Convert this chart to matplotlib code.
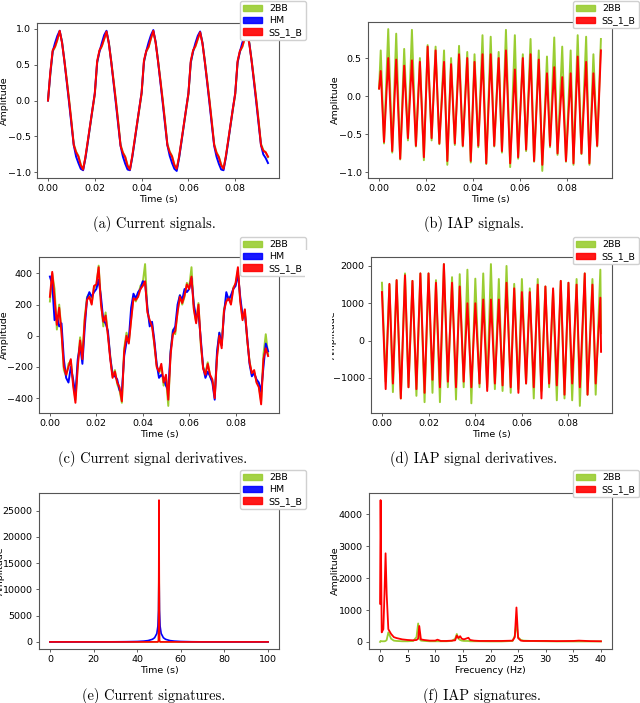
import numpy as np
import matplotlib
matplotlib.use("Agg")
import matplotlib.pyplot as plt
from matplotlib.patches import Patch, Rectangle

# ---------------- data ----------------
C_2BB = "yellowgreen"
C_HM = "#0000ff"
C_SS = "#ff0000"

dt_a = 0.001
n_a = 95
# (a) current signals
cur_2bb = [0.00, 0.36, 0.68, 0.74, 0.84, 0.96, 0.82, 0.57, 0.30, 0.02, -0.28, -0.60, -0.71, -0.77, -0.89, -0.96, -0.80, -0.58, -0.36, -0.14,
           0.08, 0.52, 0.69, 0.75, 0.85, 0.95, 0.81, 0.56, 0.29, 0.01, -0.29, -0.61, -0.72, -0.78, -0.90, -0.96, -0.79, -0.57, -0.35, -0.13,
           0.09, 0.53, 0.68, 0.74, 0.86, 0.96, 0.82, 0.57, 0.30, 0.02, -0.28, -0.60, -0.71, -0.77, -0.89, -0.95, -0.80, -0.58, -0.36, -0.14,
           0.08, 0.52, 0.69, 0.75, 0.85, 0.95, 0.81, 0.56, 0.29, 0.01, -0.29, -0.60, -0.72, -0.78, -0.89, -0.95, -0.79, -0.57, -0.35, -0.13,
           0.08, 0.52, 0.68, 0.74, 0.85, 0.95, 0.81, 0.57, 0.30, 0.02, -0.28, -0.60, -0.69, -0.72, -0.79]
cur_hm = [0.00, 0.38, 0.68, 0.80, 0.90, 0.97, 0.81, 0.55, 0.26, -0.03, -0.33, -0.62, -0.78, -0.87, -0.95, -0.97, -0.80, -0.58, -0.35, -0.12,
          0.10, 0.53, 0.68, 0.80, 0.91, 0.97, 0.80, 0.54, 0.25, -0.04, -0.34, -0.63, -0.78, -0.88, -0.96, -0.97, -0.79, -0.57, -0.34, -0.11,
          0.11, 0.54, 0.69, 0.81, 0.91, 0.98, 0.81, 0.55, 0.26, -0.03, -0.33, -0.62, -0.77, -0.87, -0.95, -0.98, -0.80, -0.58, -0.35, -0.12,
          0.10, 0.53, 0.68, 0.80, 0.90, 0.96, 0.80, 0.54, 0.25, -0.04, -0.34, -0.63, -0.78, -0.88, -0.96, -0.97, -0.79, -0.57, -0.34, -0.11,
          0.10, 0.53, 0.68, 0.80, 0.90, 0.96, 0.80, 0.55, 0.26, -0.03, -0.33, -0.62, -0.75, -0.80, -0.87]
cur_ss = [0.00, 0.40, 0.70, 0.75, 0.85, 0.97, 0.80, 0.55, 0.28, 0.00, -0.30, -0.62, -0.72, -0.78, -0.90, -0.96, -0.78, -0.56, -0.34, -0.12,
          0.10, 0.55, 0.70, 0.76, 0.86, 0.96, 0.79, 0.54, 0.27, -0.01, -0.31, -0.63, -0.73, -0.79, -0.91, -0.96, -0.77, -0.55, -0.33, -0.11,
          0.11, 0.56, 0.69, 0.75, 0.87, 0.97, 0.80, 0.55, 0.28, 0.00, -0.30, -0.62, -0.72, -0.78, -0.90, -0.95, -0.78, -0.56, -0.34, -0.12,
          0.10, 0.55, 0.70, 0.76, 0.86, 0.95, 0.79, 0.54, 0.27, -0.01, -0.31, -0.62, -0.73, -0.79, -0.90, -0.95, -0.77, -0.55, -0.33, -0.11,
          0.10, 0.55, 0.69, 0.75, 0.86, 0.95, 0.79, 0.55, 0.28, 0.00, -0.30, -0.62, -0.70, -0.72, -0.78]

# (c) current derivatives
der_2bb = [220, 400, 300, 40, 200, 30, -220, -260, -180, -160, -300, -410, -180, -10, -130, 120, 250, 270, 210, 310,
           320, 450, 220, 60, 150, 10, -130, -260, -220, -310, -350, -430, -80, 20, -40, 110, 250, 220, 260, 320,
           340, 460, 170, 80, 80, -60, -190, -240, -200, -320, -270, -450, -100, 40, 10, 160, 260, 200, 250, 340,
           310, 440, 180, 90, 210, -60, -200, -240, -170, -260, -290, -380, -120, 20, -60, 170, 230, 250, 210, 310,
           330, 420, 230, 110, 160, -30, -160, -250, -230, -290, -320, -420, -120, 10, -120]
der_hm = [380, 330, 100, 130, 60, 80, -150, -270, -300, -200, -280, -380, -150, -60, -180, 50, 240, 280, 250, 280,
          300, 360, 250, 100, 80, 30, -140, -250, -260, -280, -350, -360, -130, -40, -20, 180, 270, 240, 280, 300,
          350, 340, 180, 60, 90, -30, -180, -270, -250, -270, -320, -350, -100, 30, 60, 200, 260, 230, 300, 280,
          300, 370, 200, 120, 150, -20, -200, -270, -230, -260, -300, -410, -100, 20, -60, 140, 280, 230, 260, 300,
          320, 400, 250, 130, 140, -10, -180, -260, -240, -280, -300, -360, -200, -50, -100]
der_ss = [250, 410, 240, 70, 180, 20, -200, -250, -200, -150, -320, -430, -200, -30, -150, 100, 230, 250, 200, 320,
          330, 440, 200, 90, 130, 0, -150, -270, -230, -300, -330, -420, -100, 0, -50, 100, 240, 230, 250, 300,
          320, 350, 150, 100, 60, -50, -200, -230, -180, -300, -250, -410, -120, 10, 30, 150, 250, 210, 260, 330,
          300, 380, 170, 80, 200, -40, -210, -250, -180, -250, -280, -400, -140, 0, -80, 160, 220, 240, 200, 300,
          340, 440, 220, 100, 170, -20, -170, -240, -220, -300, -330, -440, -150, -80, -130]

# (b) IAP signals
t_b = [0.0000, 0.0007, 0.0021, 0.0039, 0.0056, 0.0073, 0.0090, 0.0107, 0.0123, 0.0140, 0.0157, 0.0174, 0.0191, 0.0207,
       0.0224, 0.0241, 0.0257, 0.0277, 0.0291, 0.0307, 0.0323, 0.0341, 0.0357, 0.0376, 0.0391, 0.0407, 0.0423, 0.0441,
       0.0457, 0.0476, 0.0491, 0.0510, 0.0524, 0.0541, 0.0559, 0.0579, 0.0593, 0.0613, 0.0627, 0.0646, 0.0661, 0.0681,
       0.0696, 0.0716, 0.0729, 0.0747, 0.0761, 0.0781, 0.0797, 0.0817, 0.0829, 0.0847, 0.0863, 0.0883, 0.0897, 0.0914,
       0.0930, 0.0946]
iap_2bb = [0.10, 0.60, -0.62, 0.88, -0.74, 0.82, -0.83, 0.62, -0.58, 0.87, -0.66, 0.50, -0.84, 0.67, -0.58, 0.65, -0.63,
           0.60, -0.90, 0.50, -0.64, 0.66, -0.66, 0.58, -0.87, 0.55, -0.67, 0.80, -0.89, 0.78, -0.66, 0.58, -0.74, 0.87,
           -0.93, 0.80, -0.82, 0.55, -0.72, 0.75, -0.86, 0.60, -0.98, 0.52, -0.67, 0.77, -0.77, 0.65, -0.86, 0.60, -0.90,
           0.80, -0.76, 0.78, -0.90, 0.55, -0.66, 0.75]
iap_ss = [0.10, 0.33, -0.60, 0.50, -0.72, 0.48, -0.82, 0.40, -0.55, 0.47, -0.65, 0.45, -0.80, 0.65, -0.55, 0.60, -0.62,
          0.45, -0.85, 0.42, -0.62, 0.55, -0.65, 0.50, -0.85, 0.45, -0.65, 0.55, -0.88, 0.55, -0.65, 0.50, -0.72, 0.60,
          -0.88, 0.35, -0.80, 0.50, -0.70, 0.55, -0.85, 0.48, -0.90, 0.30, -0.65, 0.38, -0.75, 0.25, -0.85, 0.30, -0.88,
          0.52, -0.75, 0.45, -0.88, 0.30, -0.65, 0.60]

# (d) IAP derivatives
t_d = [0.0000, 0.0016, 0.0032, 0.0047, 0.0063, 0.0081, 0.0099, 0.0114, 0.0131, 0.0148, 0.0165, 0.0183, 0.0200, 0.0217,
       0.0232, 0.0249, 0.0266, 0.0283, 0.0301, 0.0318, 0.0334, 0.0351, 0.0367, 0.0384, 0.0401, 0.0419, 0.0435, 0.0452,
       0.0468, 0.0485, 0.0502, 0.0518, 0.0535, 0.0553, 0.0568, 0.0586, 0.0601, 0.0619, 0.0635, 0.0652, 0.0669, 0.0685,
       0.0702, 0.0718, 0.0735, 0.0751, 0.0768, 0.0784, 0.0801, 0.0817, 0.0836, 0.0850, 0.0871, 0.0883, 0.0904, 0.0918,
       0.0938, 0.0941]
iapd_2bb = [1550, -1100, 1500, -1380, 1620, -1550, 1800, -1250, 1600, -1480, 1800, -1650, 1800, -1400, 1620, -1650,
            2050, -1250, 1700, -1580, 1780, -1250, 1900, -1680, 1660, -1250, 1800, -1250, 2050, -1300, 1650, -1350,
            2000, -1400, 1520, -1300, 1650, -1150, 1400, -1550, 1650, -1350, 1450, -1250, 1350, -1600, 1600, -1550,
            1550, -1600, 1650, -1750, 1800, -1450, 1650, -1450, 1900, 200]
iapd_ss = [1300, -1300, 1520, -1150, 1620, -1550, 1750, -1250, 1600, -1300, 1800, -1400, 1800, -1050, 1550, -1250,
           2050, -1100, 1550, -1250, 1450, -1100, 1000, -1250, 1000, -1150, 1100, -1350, 1100, -1150, 1100, -1200,
           1550, -1250, 1400, -1400, 1300, -1150, 1300, -1250, 1500, -1550, 1450, -1150, 1400, -1200, 1600, -1450,
           1550, -1150, 1500, -1250, 1800, -1450, 1500, -1150, 1150, -300]

# (e) current signatures
x_e = [0, 10, 20, 30, 35, 40, 43, 45, 47, 48, 49, 49.5, 49.8, 50, 50.2, 50.5, 51, 52, 53, 55, 57, 60, 65, 70, 80, 90, 100]
sig_2bb = [0, 0, 0, 0, 0, 0, 0, 0, 0, 0, 0, 0, 200, 21000, 200, 0, 0, 0, 0, 0, 0, 0, 0, 0, 0, 0, 0]
sig_hm = [0, 0, 0, 20, 40, 80, 150, 250, 500, 800, 1600, 3000, 6000, 14500, 6000, 3000, 1600, 800, 500, 250,
          150, 80, 30, 10, 0, 0, 0]
sig_ss = [0, 0, 0, 0, 0, 0, 0, 0, 0, 0, 0, 0, 300, 27000, 300, 0, 0, 0, 0, 0, 0, 0, 0, 0, 0, 0, 0]

# (f) IAP signatures
f_f = [0.0, 0.1, 0.3, 0.6, 0.8, 1.0, 1.2, 1.5, 2.0, 2.5, 3.0, 4.0, 5.0, 6.0, 6.6, 6.9, 7.1, 7.4, 8.0, 9.0,
       10.0, 10.4, 11.0, 12.0, 13.0, 13.6, 13.9, 14.2, 14.5, 14.8, 15.2, 16.0, 16.3, 17.0, 18.0, 20.0, 22.0, 24.0, 24.4, 24.7,
       25.0, 25.5, 26.0, 28.0, 30.0, 32.0, 35.0, 36.0, 38.0, 40.0]
isig_ss = [1200, 4450, 300, 400, 1500, 2780, 1500, 400, 250, 150, 120, 80, 60, 50, 60, 100, 500, 80, 60, 40,
           40, 70, 30, 30, 40, 50, 200, 120, 180, 100, 80, 130, 60, 40, 30, 30, 30, 40, 150, 1080,
           120, 40, 30, 30, 30, 25, 30, 40, 25, 20]
isig_2bb = [0, 30, 20, 20, 20, 30, 60, 300, 100, 40, 30, 20, 20, 30, 150, 580, 100, 40, 30, 20,
            20, 20, 20, 20, 30, 100, 250, 100, 60, 40, 30, 30, 20, 20, 20, 15, 15, 30, 200, 600,
            150, 60, 40, 25, 20, 15, 15, 15, 15, 15]

captions = ["(a) Current signals.", "(b) IAP signals.", "(c) Current signal derivatives.",
            "(d) IAP signal derivatives.", "(e) Current signatures.", "(f) IAP signatures."]

# ---------------- figure ----------------
W, H = 640, 703
fig = plt.figure(figsize=(W / 100, H / 100), dpi=100)

def add_ax(x0, y0, x1, y1):
    return fig.add_axes([x0 / W, 1 - y1 / H, (x1 - x0) / W, (y1 - y0) / H])

FS = 6.8

def style(ax, xlabel, label_x):
    for s in ax.spines.values():
        s.set_color("#555555")
        s.set_linewidth(0.8)
    ax.tick_params(labelsize=FS, length=2.5, width=0.6, color="#444444", pad=2)
    ax.set_xlabel(xlabel, fontsize=FS, labelpad=1)
    ax.set_ylabel("Amplitude", fontsize=FS)
    ax.yaxis.set_label_coords(label_x, 0.5)

def legend(ax, labels, colors, xr, yt):
    handles = [Patch(facecolor=c, edgecolor=c, alpha=0.9, label=l) for l, c in zip(labels, colors)]
    ax.legend(handles=handles, loc="upper right", bbox_to_anchor=(xr / W, 1 - yt / H),
              bbox_transform=fig.transFigure, fontsize=FS, handlelength=2.0, handleheight=0.7,
              borderaxespad=0, borderpad=0.35, labelspacing=0.3, handletextpad=0.7,
              framealpha=1, edgecolor="#d0d0d0")

t_a = np.arange(n_a) * dt_a
LW = 1.4
T_TICKS = [0.00, 0.02, 0.04, 0.06, 0.08]

# (a)
ax = add_ax(37, 23, 279, 178)
ax.plot(t_a, cur_2bb, color=C_2BB, lw=LW)
ax.plot(t_a, cur_hm, color=C_HM, lw=LW)
ax.plot(t_a, cur_ss, color=C_SS, lw=LW)
ax.set_yticks([-1.0, -0.5, 0.0, 0.5, 1.0])
ax.set_xticks(T_TICKS)
style(ax, "Time (s)", -0.114)
legend(ax, ["2BB", "HM", "SS_1_B"], [C_2BB, C_HM, C_SS], 306, 1)

# (b)
ax = add_ax(368, 22, 612, 178)
ax.plot(t_b, iap_2bb, color=C_2BB, lw=LW)
ax.plot(t_b, iap_ss, color=C_SS, lw=LW)
ax.set_yticks([-1.0, -0.5, 0.0, 0.5])
ax.set_xticks(T_TICKS)
style(ax, "Time (s)", -0.115)
legend(ax, ["2BB", "SS_1_B"], [C_2BB, C_SS], 639, 1)

# (c)
ax = add_ax(39, 257, 279, 413)
ax.plot(t_a, der_2bb, color=C_2BB, lw=LW)
ax.plot(t_a, der_hm, color=C_HM, lw=LW)
ax.plot(t_a, der_ss, color=C_SS, lw=LW)
ax.set_yticks([-400, -200, 0, 200, 400])
ax.set_xticks(T_TICKS)
style(ax, "Time (s)", -0.127)
legend(ax, ["2BB", "HM", "SS_1_B"], [C_2BB, C_HM, C_SS], 306, 237)

# (d)
ax = add_ax(371, 257, 612, 413)
ax.plot(t_d, iapd_2bb, color=C_2BB, lw=LW)
ax.plot(t_d, iapd_ss, color=C_SS, lw=LW)
ax.set_yticks([-1000, 0, 1000, 2000])
ax.set_xticks(T_TICKS)
style(ax, "Time (s)", -0.141)
legend(ax, ["2BB", "SS_1_B"], [C_2BB, C_SS], 639, 237)

# (e)
ax = add_ax(39, 493, 279, 649)
ax.plot(x_e, sig_2bb, color=C_2BB, lw=1.2)
ax.plot(x_e, sig_hm, color=C_HM, lw=1.2)
ax.plot(x_e, sig_ss, color=C_SS, lw=1.2)
ax.set_yticks([0, 5000, 10000, 15000, 20000, 25000])
ax.set_xticks([0, 20, 40, 60, 80, 100])
style(ax, "Time (s)", -0.144)
legend(ax, ["2BB", "HM", "SS_1_B"], [C_2BB, C_HM, C_SS], 306, 470)

# (f)
ax = add_ax(369, 493, 612, 649)
ax.plot(f_f, isig_2bb, color=C_2BB, lw=1.3)
ax.plot(f_f, isig_ss, color=C_SS, lw=1.3)
ax.set_yticks([0, 1000, 2000, 3000, 4000])
ax.set_xticks([0, 5, 10, 15, 20, 25, 30, 35, 40])
style(ax, "Frecuency (Hz)", -0.119)
legend(ax, ["2BB", "SS_1_B"], [C_2BB, C_SS], 639, 470)

# mask that hides part of the (d) ylabel, like in the reference
fig.patches.append(Rectangle((305 / W, 1 - 420 / H), 27 / W, 170 / H, transform=fig.transFigure,
                             facecolor="white", edgecolor="none", zorder=1))

cap_pos = [(154, 224), (474, 224), (153, 459), (474, 459), (154, 696), (482, 696)]
for (cx, cy), txt in zip(cap_pos, captions):
    fig.text(cx / W, 1 - cy / H, txt, ha="center", va="center", fontsize=10.4, fontfamily="cmr10")

fig.savefig("out.png", dpi=100)
